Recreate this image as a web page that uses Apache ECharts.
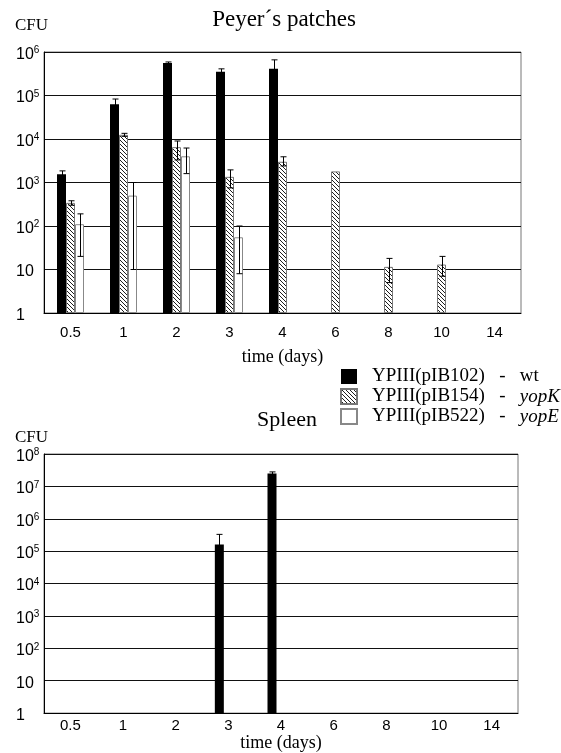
<!DOCTYPE html>
<html><head><meta charset="utf-8">
<script src="https://cdn.jsdelivr.net/npm/echarts@6/dist/echarts.min.js"></script>
<style>html,body{margin:0;padding:0;background:#fff}#c{width:561px;height:753px}</style>
</head><body><div id="c"></div>
<script>
// ---------- data ----------
const categories = ['0.5', '1', '2', '3', '4', '6', '8', '10', '14'];
const seriesNames = ['YPIII(pIB102)', 'YPIII(pIB154)', 'YPIII(pIB522)'];

// Peyer's patches (CFU)
const ppWt      = [1550, 63000, 560000, 350000, 410000, null, null, null, null];
const ppWtLow   = [1300, 50000, 530000, 300000, 250000, null, null, null, null];
const ppWtHigh  = [1850, 83000, 590000, 410000, 660000, null, null, null, null];
const ppK       = [340, 12500, 6500, 1350, 3000, 1800, 11.5, 13, null];
const ppKLow    = [300, 11500, 3300, 750, 2400, null, 5, 7, null];
const ppKHigh   = [380, 13500, 9000, 1950, 3900, null, 18, 20, null];
const ppE       = [110, 500, 4000, 55, null, null, null, null, null];
const ppELow    = [20, 10, 1600, 8, null, null, null, null, null];
const ppEHigh   = [190, 1000, 6200, 100, null, null, null, null, null];

// Spleen (CFU)
const spWt      = [null, null, null, 160000, 25000000, null, null, null, null];
const spWtLow   = [null, null, null, 100000, 22000000, null, null, null, null];
const spWtHigh  = [null, null, null, 330000, 28000000, null, null, null, null];
const spK       = [null, null, null, null, null, null, null, null, null];
const spE       = [null, null, null, null, null, null, null, null, null];

// ---------- styling helpers ----------
const SERIF = '"Liberation Serif", "DejaVu Serif", serif';
const SANS = '"Liberation Sans", Arial, sans-serif';
const BARW = 9;

function hatch() {
  const n = 4, c = document.createElement('canvas');
  c.width = n; c.height = n;
  const ctx = c.getContext('2d');
  const img = ctx.createImageData(n, n);
  for (let y = 0; y < n; y++) for (let x = 0; x < n; x++) {
    const i = (y * n + x) * 4;
    const on = ((x - y) % n + n) % n === 0;
    const v = on ? 30 : 255;
    img.data[i] = v; img.data[i + 1] = v; img.data[i + 2] = v; img.data[i + 3] = 255;
  }
  ctx.putImageData(img, 0, 0);
  return { image: c, repeat: 'repeat' };
}
const hatchFill = hatch();

const styles = [
  { color: '#000', borderColor: '#000', borderWidth: 0 },
  { color: hatchFill, borderColor: '#777', borderWidth: 1 },
  { color: '#fff', borderColor: '#888', borderWidth: 1 }
];

function errData(lo, hi) {
  const out = [];
  for (let i = 0; i < categories.length; i++) {
    if (lo[i] != null && hi[i] != null) out.push([i, lo[i], hi[i]]);
  }
  return out;
}
function errRender(offset) {
  return function (params, api) {
    const i = api.value(0);
    const pHi = api.coord([i, api.value(2)]);
    const pLo = api.coord([i, api.value(1)]);
    const cx = Math.round(pHi[0] + offset) + 0.5;
    const hw = 3;
    const st = { stroke: '#000', lineWidth: 1 };
    return {
      type: 'group', children: [
        { type: 'line', shape: { x1: cx, y1: pHi[1], x2: cx, y2: pLo[1] }, style: st },
        { type: 'line', shape: { x1: cx - hw, y1: pHi[1], x2: cx + hw, y2: pHi[1] }, style: st },
        { type: 'line', shape: { x1: cx - hw, y1: pLo[1], x2: cx + hw, y2: pLo[1] }, style: st }
      ]
    };
  };
}

function logLabel(v) {
  const e = Math.round(Math.log10(v));
  if (e === 0) return '1';
  if (e === 1) return '10';
  return '10{s|' + e + '}';
}

function xAxis(gi, labelMargin, nameGap) {
  return {
    type: 'category', gridIndex: gi, data: categories,
    axisLine: { lineStyle: { color: '#000', width: 1 } },
    axisTick: { show: false },
    axisLabel: { color: '#000', fontFamily: SANS, fontSize: 15, margin: labelMargin },
    name: 'time (days)', nameLocation: 'middle', nameGap: nameGap,
    nameTextStyle: { color: '#000', fontFamily: SERIF, fontSize: 18 }
  };
}
function yAxis(gi, maxV) {
  return {
    type: 'log', logBase: 10, gridIndex: gi, min: 1, max: maxV,
    splitNumber: Math.round(Math.log10(maxV)),
    axisLine: { show: true, lineStyle: { color: '#000', width: 1 } },
    axisTick: { show: false },
    minorTick: { show: false }, minorSplitLine: { show: false },
    splitLine: { show: true, lineStyle: { color: '#111', width: 1 } },
    axisLabel: {
      color: '#000', fontFamily: SANS, fontSize: 16, margin: 28, align: 'left',
      lineHeight: 18, padding: [5, 0, 0, 0], formatter: logLabel,
      rich: { s: { fontSize: 10, fontFamily: SANS, color: '#000', verticalAlign: 'top' } }
    }
  };
}

function barSeries(gi, idx, data) {
  return {
    name: seriesNames[idx], type: 'bar', xAxisIndex: gi, yAxisIndex: gi,
    data: data, barWidth: BARW, barGap: '0%',
    itemStyle: styles[idx], emphasis: { disabled: true }, animation: false
  };
}
function errSeries(gi, offset, lo, hi) {
  return {
    type: 'custom', xAxisIndex: gi, yAxisIndex: gi, renderItem: errRender(offset),
    data: errData(lo, hi), z: 5, silent: true, animation: false,
    encode: { x: 0, y: [1, 2] }
  };
}

const chart = echarts.init(document.getElementById('c'), null, { renderer: 'canvas' });
chart.setOption({
  backgroundColor: '#fff',
  animation: false,
  title: [
    { text: 'Peyer´s patches', left: 279, top: 3, textAlign: 'center',
      textStyle: { fontFamily: SERIF, fontSize: 23, fontWeight: 'normal', color: '#000' } },
    { text: 'CFU', left: 10, top: 12,
      textStyle: { fontFamily: SERIF, fontSize: 17, fontWeight: 'normal', color: '#000' } },
    { text: 'Spleen', left: 282, top: 404, textAlign: 'center',
      textStyle: { fontFamily: SERIF, fontSize: 22, fontWeight: 'normal', color: '#000' } },
    { text: 'CFU', left: 10, top: 424,
      textStyle: { fontFamily: SERIF, fontSize: 17, fontWeight: 'normal', color: '#000' } }
  ],
  legend: {
    orient: 'vertical', left: 340, top: 367, itemWidth: 16, itemHeight: 15, itemGap: 1,
    icon: 'rect', selectedMode: false, padding: 0,
    data: seriesNames,
    formatter: function (name) {
      if (name === seriesNames[0]) return name + '   -   wt';
      if (name === seriesNames[1]) return name + '   -   {i|yopK}';
      return name + '   -   {i|yopE}';
    },
    textStyle: {
      fontFamily: SERIF, fontSize: 19, color: '#000', padding: [0, 0, 0, 10],
      rich: { i: { fontFamily: SERIF, fontSize: 19, fontStyle: 'italic', color: '#000' } }
    }
  },
  grid: [
    { left: 44, top: 52, width: 477, height: 261, show: true, borderColor: '#777', borderWidth: 1, backgroundColor: 'transparent' },
    { left: 44, top: 454, width: 474, height: 261, show: true, borderColor: '#777', borderWidth: 1, backgroundColor: 'transparent' }
  ],
  xAxis: [xAxis(0, 12, 35), xAxis(1, 5, 20)],
  yAxis: [yAxis(0, 1e6), yAxis(1, 1e8)],
  series: [
    barSeries(0, 0, ppWt), barSeries(0, 1, ppK), barSeries(0, 2, ppE),
    errSeries(0, -BARW, ppWtLow, ppWtHigh), errSeries(0, 0, ppKLow, ppKHigh), errSeries(0, BARW, ppELow, ppEHigh),
    barSeries(1, 0, spWt), barSeries(1, 1, spK), barSeries(1, 2, spE),
    errSeries(1, -BARW, spWtLow, spWtHigh)
  ]
});
</script>
</body></html>
